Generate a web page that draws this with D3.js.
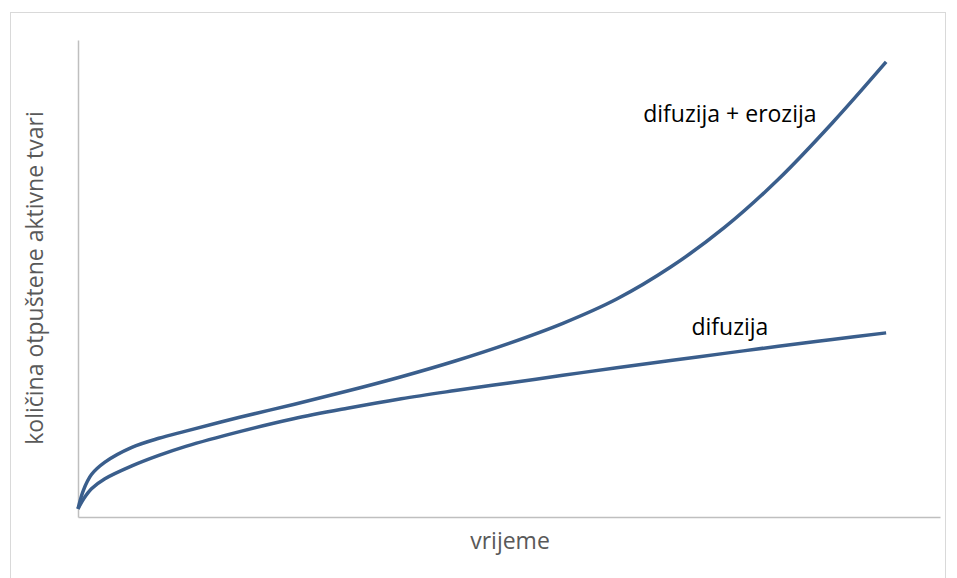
<!DOCTYPE html>
<html>
<head>
<meta charset="utf-8">
<script src="https://cdn.jsdelivr.net/npm/d3@7"></script>
<style>
  body { margin: 0; background: #fff; }
  text { font-family: "Open Sans", "Noto Sans", sans-serif; }
</style>
</head>
<body>
<div id="chart-area"></div>
<script>
// release curves (arbitrary units)
var times = [0, 0.1, 0.25, 0.5, 1, 1.5, 2, 3, 4, 5, 6, 7, 8, 9, 10, 11, 12, 13, 14, 15];
var diffusion = [1.7, 3.7, 5.9, 8.0, 10.7, 12.9, 14.8, 17.9, 20.6, 22.8, 24.8, 26.5, 28.1, 29.7, 31.3, 32.8, 34.3, 35.8, 37.2, 38.6];
var diffErosion = [1.7, 5.6, 8.9, 11.5, 14.6, 16.5, 18.0, 20.9, 23.6, 26.4, 29.4, 32.7, 36.4, 40.6, 45.7, 52.4, 60.7, 70.8, 82.6, 95.4];
var seriesLabels = ["difuzija + erozija", "difuzija"];

var W = 957, H = 578;
var margin = { left: 78, right: 17, top: 40, bottom: 61 };
var width = W - margin.left - margin.right;
var height = H - margin.top - margin.bottom;

var svg = d3.select("#chart-area")
	.append("svg")
	.attr("width", W)
	.attr("height", H);

// outer chart frame
svg.append("rect")
	.attr("x", 10.5)
	.attr("y", 12.5)
	.attr("width", 935)
	.attr("height", 580)
	.attr("fill", "none")
	.attr("stroke", "#d9d9d9")
	.attr("stroke-width", 1);

var g = svg.append("g")
	.attr("transform", "translate(" + margin.left + "," + margin.top + ")");

var x = d3.scaleLinear().domain([0, 16]).range([0, width]);
var y = d3.scaleLinear().domain([0, 100]).range([height, 0]);

// axes without ticks
g.append("g")
	.attr("transform", "translate(0," + height + ")")
	.call(d3.axisBottom(x).tickValues([]).tickSizeOuter(0));
g.append("g")
	.call(d3.axisLeft(y).tickValues([]).tickSizeOuter(0));
g.selectAll(".domain")
	.attr("stroke", "#bfbfbf")
	.attr("stroke-width", 1.5);

var line = d3.line()
	.x(function(d){ return x(d[0]); })
	.y(function(d){ return y(d[1]); })
	.curve(d3.curveCatmullRom.alpha(0.5));

[diffErosion, diffusion].forEach(function(vals){
	g.append("path")
		.datum(times.map(function(t, i){ return [t, vals[i]]; }))
		.attr("fill", "none")
		.attr("stroke", "#3a5e8c")
		.attr("stroke-width", 3.5)
		.attr("d", line);
});

// curve labels
g.append("text")
	.attr("x", x(12.1))
	.attr("y", y(82.8))
	.attr("font-size", "23px")
	.attr("text-anchor", "middle")
	.attr("fill", "#000")
	.text(seriesLabels[0]);

g.append("text")
	.attr("x", x(12.1))
	.attr("y", y(38.2))
	.attr("font-size", "23px")
	.attr("text-anchor", "middle")
	.attr("fill", "#000")
	.text(seriesLabels[1]);

// axis titles
svg.append("text")
	.attr("x", 510)
	.attr("y", 549)
	.attr("font-size", "23px")
	.attr("text-anchor", "middle")
	.attr("fill", "#595959")
	.text("vrijeme");

svg.append("text")
	.attr("transform", "translate(43," + 278 + ") rotate(-90)")
	.attr("font-size", "23px")
	.attr("text-anchor", "middle")
	.attr("fill", "#595959")
	.text("količina otpuštene aktivne tvari");
</script>
</body>
</html>
